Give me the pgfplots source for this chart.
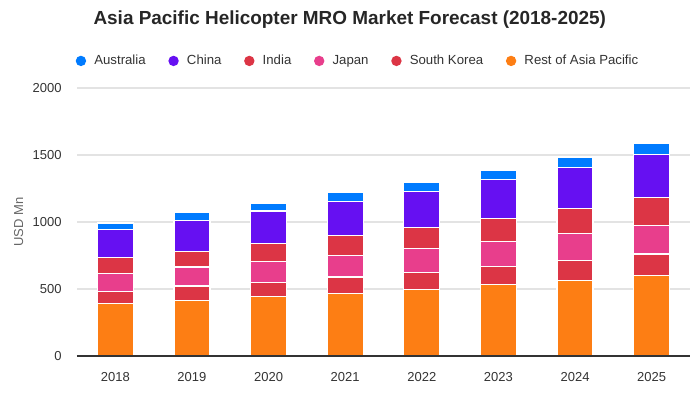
\documentclass[border=0pt]{standalone}
\usepackage{pgfplots}
\pgfplotsset{compat=1.18}
\usepackage{fontspec}
\setmainfont{Liberation Sans}
\definecolor{cAus}{HTML}{007BFF}
\definecolor{cChina}{HTML}{6610F2}
\definecolor{cIndia}{HTML}{DC3545}
\definecolor{cJapan}{HTML}{E83E8C}
\definecolor{cKorea}{HTML}{DC3545}
\definecolor{cRest}{HTML}{FD7E14}
\definecolor{txt}{HTML}{333333}
\begin{document}
\begin{tikzpicture}[x=0.75pt,y=0.75pt]
\path[use as bounding box] (-77,-44) rectangle (623,356);
\begin{axis}[
    name=ax,
    at={(0pt,0pt)}, anchor=south west,
    scale only axis,
    width=459.75pt, height=201pt,
    ybar stacked,
    bar width=27pt,
    xmin=-0.5, xmax=7.5,
    ymin=0, ymax=2000,
    xtick={0,...,7},
    xticklabels={2018,2019,2020,2021,2022,2023,2024,2025},
    ytick={0,500,1000,1500,2000},
    major tick length=0pt,
    axis x line*=bottom,
    axis y line*=left,
    x axis line style={draw=none},
    y axis line style={draw=none},
    ymajorgrids,
    grid style={draw=black!11, line width=0.8pt},
    tick label style={font=\fontsize{9.75}{11}\selectfont, text=txt},
    /pgf/number format/assume math mode=true,
    /pgf/number format/1000 sep={},
    xticklabel style={yshift=-9pt},
    yticklabel style={xshift=-8pt},
    ylabel={USD Mn},
    ylabel style={font=\fontsize{9.75}{11}\selectfont, text=black!60, at={(axis description cs:-0.095,0.5)}, anchor=center},
    every axis title shift=0pt,
    title={Asia Pacific Helicopter MRO Market Forecast (2018-2025)},
    title style={font=\fontsize{14.2}{16}\selectfont\bfseries, text=black!85, at={(axis description cs:0.445,1.255)}, anchor=center},
    legend style={at={(axis description cs:-0.009,1.101)}, anchor=west, draw=none, fill=none,
        font=\fontsize{9.9}{11}\selectfont, text=txt,
        /tikz/every even column/.append style={column sep=15pt}},
    legend columns=-1,
    reverse legend,
    legend image code/.code={\fill[#1,draw=none] (0pt,0pt) circle (3.9pt); \path (7.6pt,0pt);},
    every axis plot/.append style={draw=white, line width=0.9pt},
]
\addplot[fill=cRest] coordinates {(0,393) (1,415) (2,445) (3,467) (4,495) (5,535) (6,565) (7,602)};
\addplot[fill=cKorea] coordinates {(0,90) (1,107) (2,105) (3,122) (4,129) (5,134) (6,149) (7,159)};
\addplot[fill=cJapan] coordinates {(0,134) (1,142) (2,156) (3,162) (4,179) (5,187) (6,201) (7,214)};
\addplot[fill=cIndia] coordinates {(0,119) (1,117) (2,134) (3,149) (4,156) (5,171) (6,186) (7,209)};
\addplot[fill=cChina] coordinates {(0,209) (1,231) (2,242) (3,251) (4,270) (5,290) (6,306) (7,320)};
\addplot[fill=cAus] coordinates {(0,47) (1,57) (2,54) (3,68) (4,69) (5,70) (6,77) (7,84)};
\legend{Rest of Asia Pacific, South Korea, Japan, India, China, Australia}
\end{axis}
\draw[txt, line width=1pt] (ax.south west) -- (ax.south east);
\end{tikzpicture}
\end{document}
